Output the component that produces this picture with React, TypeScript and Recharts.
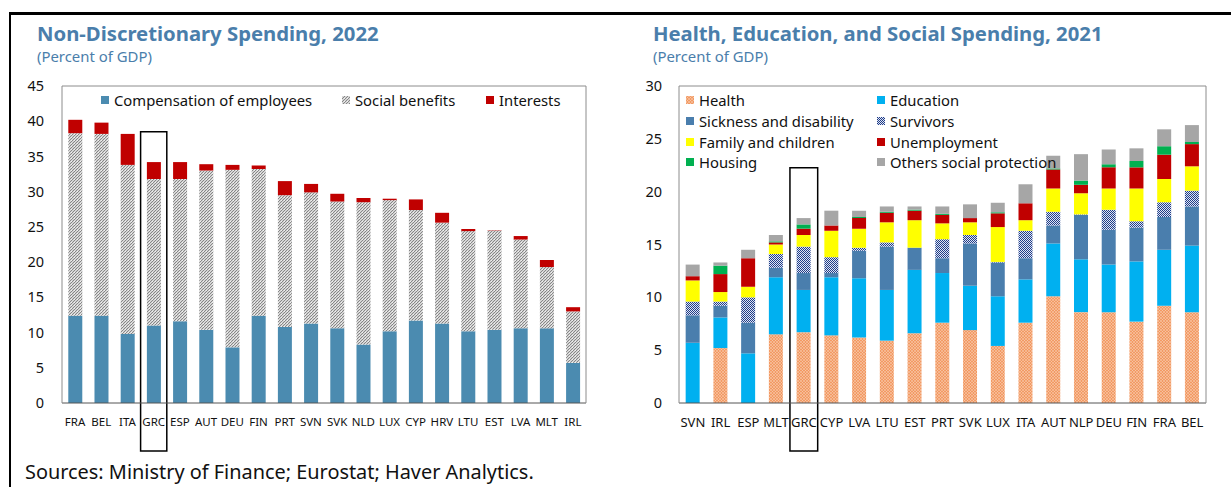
import React from "react";
import { BarChart, Bar, XAxis, YAxis, ReferenceArea } from "recharts";

// Non-discretionary spending, 2022 (percent of GDP)
const ndCountries = ["FRA", "BEL", "ITA", "GRC", "ESP", "AUT", "DEU", "FIN", "PRT", "SVN", "SVK", "NLD", "LUX", "CYP", "HRV", "LTU", "EST", "LVA", "MLT", "IRL"];
const compensation = [12.4, 12.4, 9.8, 11.0, 11.6, 10.4, 7.9, 12.4, 10.8, 11.3, 10.6, 8.3, 10.2, 11.7, 11.3, 10.2, 10.4, 10.6, 10.6, 5.7];
const socialBenefits = [25.9, 25.8, 24.0, 20.8, 20.2, 22.6, 25.2, 20.8, 18.7, 18.6, 18.0, 20.2, 18.6, 15.7, 14.3, 14.2, 14.1, 12.6, 8.7, 7.3];
const interests = [1.9, 1.6, 4.4, 2.4, 2.4, 0.9, 0.7, 0.5, 2.0, 1.2, 1.1, 0.6, 0.2, 1.5, 1.4, 0.3, 0.05, 0.5, 1.0, 0.6];
const ndTicks = [0, 5, 10, 15, 20, 25, 30, 35, 40, 45];
const ndBounds = [0, 1, 2, 3, 4, 5, 6, 7, 8, 9, 10, 11, 12, 13, 14, 15, 16, 17, 18, 19, 20];

// Health, education and social spending, 2021 (percent of GDP)
const hesCountries = ["SVN", "IRL", "ESP", "MLT", "GRC", "CYP", "LVA", "LTU", "EST", "PRT", "SVK", "LUX", "ITA", "AUT", "NLP", "DEU", "FIN", "FRA", "BEL"];
const health = [0, 5.2, 0, 6.5, 6.7, 6.4, 6.2, 5.9, 6.6, 7.6, 6.9, 5.4, 7.6, 10.1, 8.6, 8.6, 7.7, 9.2, 8.6];
const education = [5.7, 2.9, 4.7, 5.4, 4.0, 5.5, 5.6, 4.8, 6.0, 4.7, 4.2, 4.7, 4.1, 5.0, 5.0, 4.5, 5.7, 5.3, 6.3];
const sickness = [2.6, 1.1, 2.9, 0.9, 1.6, 0.4, 2.6, 4.1, 2.1, 1.4, 4.0, 3.2, 2.0, 1.7, 4.2, 3.3, 3.2, 3.1, 3.7];
const survivors = [1.3, 0.4, 2.4, 1.3, 2.5, 1.5, 0.3, 0.4, 0, 1.8, 0.8, 0.05, 2.6, 1.3, 0.05, 1.9, 0.6, 1.4, 1.5];
const family = [2.0, 0.9, 1.0, 0.9, 1.1, 2.5, 1.8, 1.9, 2.6, 1.5, 1.2, 3.3, 1.0, 2.2, 2.0, 2.0, 3.1, 2.2, 2.3];
const unemployment = [0.4, 1.7, 2.7, 0.2, 0.6, 0.5, 1.0, 0.9, 0.9, 0.8, 0.4, 1.3, 1.6, 1.8, 0.8, 2.0, 2.0, 2.3, 2.1];
const housing = [0, 0.8, 0, 0.1, 0.4, 0, 0.1, 0.1, 0.1, 0.1, 0, 0.1, 0, 0.1, 0.4, 0.3, 0.6, 0.8, 0.2];
const otherSocial = [1.1, 0.3, 0.8, 0.6, 0.6, 1.4, 0.6, 0.5, 0.3, 0.7, 1.3, 0.9, 1.8, 1.2, 2.5, 1.4, 1.2, 1.6, 1.6];
const hesTicks = [0, 5, 10, 15, 20, 25, 30];
const hesBounds = [0, 1, 2, 3, 4, 5, 6, 7, 8, 9, 10, 11, 12, 13, 14, 15, 16, 17, 18, 19];

const FONT = "'Noto Sans', 'Open Sans', sans-serif";
const TITLE = "#4a7eab";
const FRAME = "#8c8c8c";

const ndData = ndCountries.map((c, i) => ({
  country: c,
  comp: compensation[i],
  social: socialBenefits[i],
  interest: interests[i],
}));

const hesData = hesCountries.map((c, i) => ({
  country: c,
  health: health[i],
  education: education[i],
  sickness: sickness[i],
  survivors: survivors[i],
  family: family[i],
  unemployment: unemployment[i],
  housing: housing[i],
  others: otherSocial[i],
}));

const ndSeries = [
  { key: "comp", name: "Compensation of employees", fill: "#4b8bb0" },
  { key: "social", name: "Social benefits", fill: "url(#pat-social)" },
  { key: "interest", name: "Interests", fill: "#c00000" },
];

const hesSeries = [
  { key: "health", name: "Health", fill: "url(#pat-health)" },
  { key: "education", name: "Education", fill: "#00b0f0" },
  { key: "sickness", name: "Sickness and disability", fill: "#4a7ead" },
  { key: "survivors", name: "Survivors", fill: "url(#pat-surv)" },
  { key: "family", name: "Family and children", fill: "#ffff00" },
  { key: "unemployment", name: "Unemployment", fill: "#c00000" },
  { key: "housing", name: "Housing", fill: "#00b050" },
  { key: "others", name: "Others social protection", fill: "#a6a6a6" },
];

function Patterns() {
  return (
    <svg width={0} height={0} style={{ position: "absolute" }}>
      <defs>
        <pattern id="pat-social" patternUnits="userSpaceOnUse" width={3} height={3}>
          <rect width={3} height={3} fill="#d6d6d6" />
          <path d="M-1,1 L1,-1 M0,3 L3,0 M2,4 L4,2" stroke="#7d7d7d" strokeWidth={0.9} />
          <rect x={2} y={2} width={1} height={1} fill="#f0f0f0" />
        </pattern>
        <pattern id="pat-health" patternUnits="userSpaceOnUse" width={3} height={3}>
          <rect width={3} height={3} fill="#f29a64" />
          <path d="M0,3 L3,0 M0,0 L3,3" stroke="#fbd9c2" strokeWidth={0.45} />
        </pattern>
        <pattern id="pat-surv" patternUnits="userSpaceOnUse" width={2} height={2}>
          <rect width={2} height={2} fill="#dfe5f3" />
          <rect width={1} height={1} fill="#1f3c88" />
          <rect x={1} y={1} width={1} height={1} fill="#1f3c88" />
        </pattern>
      </defs>
    </svg>
  );
}

function LegendItem({ x, y, fill, label }: { x: number; y: number; fill: string; label: string }) {
  return (
    <div style={{ position: "absolute", left: x, top: y, display: "flex", alignItems: "center", whiteSpace: "nowrap", fontSize: 14.8, lineHeight: "18px", color: "#111" }}>
      <svg width={8} height={8} style={{ marginRight: 5 }}>
        <rect width={8} height={8} fill={fill} />
      </svg>
      <span>{label}</span>
    </div>
  );
}

function NonDiscretionary() {
  return (
    <BarChart
      width={600}
      height={487}
      data={ndData}
      margin={{ top: 85, right: 13, bottom: 82, left: 61 }}
      barCategoryGap="24%"
    >
      <XAxis
        dataKey="country"
        height={1}
        interval={0}
        tickLine={false}
        tickSize={0}
        tickMargin={15}
        axisLine={{ stroke: "#555" }}
        tick={{ fontSize: 11.5, fill: "#111", fontFamily: FONT }}
      />
      <XAxis
        xAxisId="bounds"
        type="number"
        domain={[0, 20]}
        ticks={ndBounds}
        height={1}
        tick={false}
        axisLine={false}
        tickSize={5}
        tickLine={{ stroke: "#555" }}
      />
      <XAxis xAxisId="top" orientation="top" type="number" domain={[0, 1]} height={1} tick={false} tickLine={false} axisLine={{ stroke: FRAME }} />
      <YAxis
        width={1}
        domain={[0, 45]}
        ticks={ndTicks}
        interval={0}
        tickLine={false}
        tickSize={0}
        tickMargin={18}
        axisLine={{ stroke: FRAME }}
        tick={{ fontSize: 14.5, fill: "#111", fontFamily: FONT }}
      />
      <YAxis yAxisId="right" orientation="right" width={1} domain={[0, 1]} tick={false} tickLine={false} axisLine={{ stroke: FRAME }} />
      {ndSeries.map((s) => (
        <Bar key={s.key} dataKey={s.key} name={s.name} stackId="nd" fill={s.fill} isAnimationActive={false} />
      ))}
      <ReferenceArea x1="GRC" x2="GRC" y1={-6.8} y2={38.5} ifOverflow="visible" fill="none" stroke="#000" strokeWidth={1.5} />
    </BarChart>
  );
}

function HealthEducation() {
  return (
    <BarChart
      width={631}
      height={487}
      data={hesData}
      margin={{ top: 85, right: 24, bottom: 82, left: 78 }}
      barCategoryGap="24%"
    >
      <XAxis
        dataKey="country"
        height={1}
        interval={0}
        tickLine={false}
        tickSize={0}
        tickMargin={15}
        axisLine={{ stroke: "#555" }}
        tick={{ fontSize: 13, fill: "#111", fontFamily: FONT }}
      />
      <XAxis
        xAxisId="bounds"
        type="number"
        domain={[0, 19]}
        ticks={hesBounds}
        height={1}
        tick={false}
        axisLine={false}
        tickSize={5}
        tickLine={{ stroke: "#555" }}
      />
      <XAxis xAxisId="top" orientation="top" type="number" domain={[0, 1]} height={1} tick={false} tickLine={false} axisLine={{ stroke: FRAME }} />
      <YAxis
        width={1}
        domain={[0, 30]}
        ticks={hesTicks}
        interval={0}
        tickLine={false}
        tickSize={0}
        tickMargin={17}
        axisLine={{ stroke: FRAME }}
        tick={{ fontSize: 14.5, fill: "#111", fontFamily: FONT }}
      />
      <YAxis yAxisId="right" orientation="right" width={1} domain={[0, 1]} tick={false} tickLine={false} axisLine={{ stroke: FRAME }} />
      {hesSeries.map((s) => (
        <Bar key={s.key} dataKey={s.key} name={s.name} stackId="hes" fill={s.fill} isAnimationActive={false} />
      ))}
      <ReferenceArea x1="GRC" x2="GRC" y1={-4.54} y2={22.26} ifOverflow="visible" fill="none" stroke="#000" strokeWidth={1.5} />
    </BarChart>
  );
}

export default function App() {
  const ndLegendX = [101, 342, 486];
  const hesLegendX = [686, 877];
  const hesLegendY = [91, 112, 133, 153];
  return (
    <div style={{ position: "absolute", left: 0, top: 0, width: 1231, height: 487, background: "#fff", overflow: "hidden", fontFamily: FONT }}>
      <Patterns />
      <div style={{ position: "absolute", left: 9, top: 12, width: 1240, height: 500, borderTop: "3px solid #000", borderLeft: "2px solid #000" }} />

      <div style={{ position: "absolute", left: 0, top: 0 }}>
        <NonDiscretionary />
      </div>
      <div style={{ position: "absolute", left: 600, top: 0 }}>
        <HealthEducation />
      </div>

      <div style={{ position: "absolute", left: 37, top: 22, fontSize: 20.3, lineHeight: "22px", fontWeight: 700, color: TITLE, whiteSpace: "nowrap" }}>
        Non-Discretionary Spending, 2022
      </div>
      <div style={{ position: "absolute", left: 37, top: 47.5, fontSize: 14.9, lineHeight: "17px", color: TITLE }}>
        (Percent of GDP)
      </div>
      <div style={{ position: "absolute", left: 653, top: 22, fontSize: 20.3, lineHeight: "22px", fontWeight: 700, color: TITLE, whiteSpace: "nowrap" }}>
        Health, Education, and Social Spending, 2021
      </div>
      <div style={{ position: "absolute", left: 653, top: 47.5, fontSize: 14.9, lineHeight: "17px", color: TITLE }}>
        (Percent of GDP)
      </div>

      {ndSeries.map((s, i) => (
        <LegendItem key={s.key} x={ndLegendX[i]} y={91} fill={s.fill} label={s.name} />
      ))}
      {hesSeries.map((s, i) => (
        <LegendItem key={s.key} x={hesLegendX[i % 2]} y={hesLegendY[Math.floor(i / 2)]} fill={s.fill} label={s.name} />
      ))}

      <div style={{ position: "absolute", left: 25, top: 462, fontSize: 19.9, lineHeight: "20px", color: "#111", whiteSpace: "nowrap" }}>
        Sources: Ministry of Finance; Eurostat; Haver Analytics.
      </div>
    </div>
  );
}
